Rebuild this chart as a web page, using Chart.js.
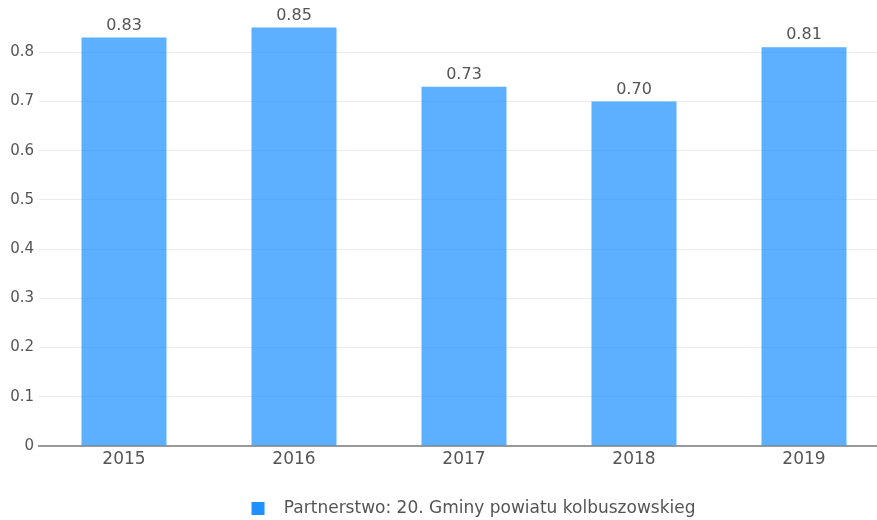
<!DOCTYPE html>
<html>
<head>
<meta charset="utf-8">
<script src="https://cdn.jsdelivr.net/npm/chart.js@4.4.1/dist/chart.umd.min.js"></script>
<style>
  body { margin: 0; overflow: hidden; background: #fff; }
  #wrap { width: 947px; height: 520px; }
</style>
</head>
<body>
<div id="wrap"><canvas id="myChart"></canvas></div>
<script>
// Data
const years = ['2015', '2016', '2017', '2018', '2019'];
const values = [0.83, 0.85, 0.73, 0.70, 0.81];
const seriesName = 'Partnerstwo: 20. Gminy powiatu kolbuszowskieg';

const FONT = '"DejaVu Sans", Verdana, sans-serif';

// Draws the value above each bar
const valueLabels = {
  id: 'valueLabels',
  afterDatasetsDraw(chart) {
    const ctx = chart.ctx;
    const meta = chart.getDatasetMeta(0);
    ctx.save();
    ctx.font = '16px ' + FONT;
    ctx.fillStyle = '#555';
    ctx.textAlign = 'center';
    ctx.textBaseline = 'bottom';
    meta.data.forEach((bar, i) => {
      ctx.fillText(values[i].toFixed(2), bar.x, bar.y - 4);
    });
    ctx.restore();
  }
};

let ctx = document.getElementById('myChart').getContext('2d');
let myChart = new Chart(ctx, {
  type: 'bar',
  data: {
    labels: years,
    datasets: [{
      label: seriesName,
      data: values,
      backgroundColor: 'rgba(30, 144, 255, 0.72)',
      borderWidth: 0,
      barPercentage: 0.5,
      categoryPercentage: 1.0
    }]
  },
  plugins: [valueLabels],
  options: {
    responsive: true,
    maintainAspectRatio: false,
    animation: false,
    layout: {
      padding: { top: 3, right: 0, bottom: -7, left: 0 }
    },
    plugins: {
      legend: {
        position: 'bottom',
        labels: {
          boxWidth: 13,
          boxHeight: 13,
          padding: 2,
          color: '#555',
          font: { family: FONT, size: 17 },
          // extra spaces widen the gap between the box and the text
          generateLabels: chart => [{
            text: '  ' + seriesName,
            fillStyle: 'rgb(30, 144, 255)',
            strokeStyle: 'rgb(30, 144, 255)',
            fontColor: '#555',
            lineWidth: 0,
            datasetIndex: 0
          }]
        }
      },
      tooltip: { enabled: false }
    },
    scales: {
      x: {
        afterFit: scale => { scale.height = 52; },
        grid: { display: false, drawTicks: false },
        border: { display: true, color: '#999', width: 2 },
        ticks: {
          padding: 3,
          color: '#555',
          font: { family: FONT, size: 17 }
        }
      },
      y: {
        min: 0,
        max: 0.9,
        afterFit: scale => {
          scale.width = 39;
          scale.paddingTop = 0;
          scale.paddingBottom = 0;
        },
        grid: {
          drawTicks: false,
          color: ctx => (ctx.tick && (ctx.tick.value === 0 || ctx.tick.value > 0.85)) ? 'rgba(0,0,0,0)' : '#ececec'
        },
        border: { display: false },
        ticks: {
          stepSize: 0.1,
          padding: 5,
          color: '#555',
          font: { family: FONT, size: 15 },
          callback: v => v > 0.85 ? '' : (v === 0 ? '0' : Number(v).toFixed(1))
        }
      },
      // empty right axis: the plot continues past the visible edge
      yRight: {
        position: 'right',
        afterFit: scale => { scale.width = 58; },
        grid: { display: false, drawTicks: false },
        border: { display: false },
        ticks: { display: false }
      }
    }
  }
});
</script>
</body>
</html>
